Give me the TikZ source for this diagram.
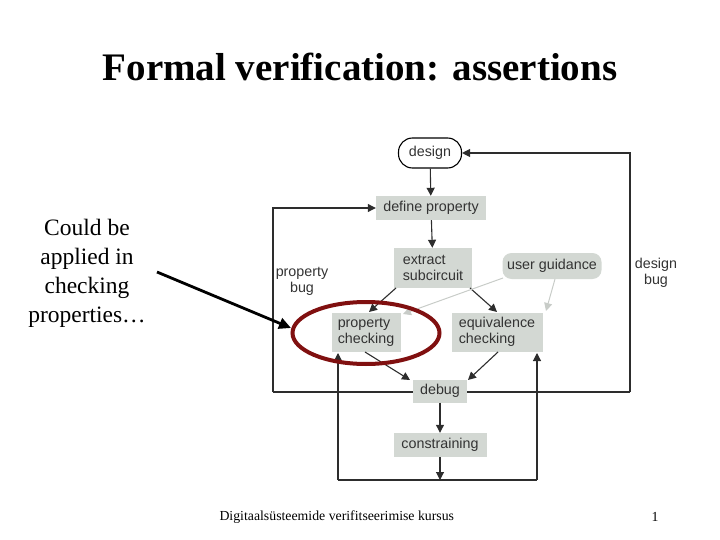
\documentclass[tikz,border=0pt]{standalone}
\usepackage{fontspec}
\setmainfont{Liberation Serif}
\setsansfont{Liberation Sans}
\usetikzlibrary{arrows.meta,shapes.geometric}
\definecolor{boxgray}{RGB}{211,216,211}
\definecolor{linegray}{RGB}{45,45,45}
\definecolor{lightln}{RGB}{200,204,200}
\definecolor{ellred}{RGB}{128,16,16}
\tikzset{
  gbox/.style={fill=boxgray, font=\sffamily\fontsize{14.3}{16}\selectfont, text=black!80, inner sep=0pt, align=left},
  flow/.style={draw=linegray, line width=1.1pt, -{Triangle[length=8pt,width=8pt]}},
  plain/.style={draw=linegray, line width=1.1pt},
  light/.style={draw=lightln, line width=1pt, -{Triangle[length=8pt,width=8pt]}},
  lbl/.style={font=\sffamily\fontsize{14.3}{16}\selectfont, text=black!80, align=center},
}
\begin{document}
\begin{tikzpicture}[x=1pt,y=-1pt]
\useasboundingbox (0,0) rectangle (720,540);
% title
\node (title) at (360,67) {\fontsize{39}{44}\selectfont\bfseries Formal verification: assertions};
% loops (behind)
\coordinate (tl) at (273,208);
\coordinate (bl) at (273,392);
\coordinate (br) at (630,392);
\coordinate (tr) at (630,153);
% nodes
\node[draw=black, line width=1.1pt, rounded corners=14pt, minimum width=63pt, minimum height=30pt, fill=white, font=\sffamily\fontsize{14.3}{16}\selectfont, text=black!80] (design) at (430,153) {design};
\node[gbox, minimum width=110pt, minimum height=24pt, align=center] (define) at (431,208) {define property};
\node[gbox, minimum width=78pt, minimum height=40pt] (extract) at (433,268) {extract\\subcircuit};
\node[gbox, rounded corners=9pt, minimum width=99pt, minimum height=26pt, align=center] (user) at (552,266) {user guidance};
\node[gbox, minimum width=69pt, minimum height=39pt] (pc) at (366,332) {property\\checking};
\node[gbox, minimum width=91pt, minimum height=39pt] (ec) at (497,332) {equivalence\\checking};
\node[lbl] (pbug) at (302,281) {property\\bug};
\node[lbl] (dbug) at (656,273) {design\\bug};
% big feedback loop
\draw[plain] (br) -- (bl);
\node[gbox, minimum width=54pt, minimum height=23pt, align=center] (debug) at (440,391) {debug};
\node[gbox, minimum width=93pt, minimum height=24pt, align=center] (constr) at (440,445) {constraining};
\draw[flow] (bl) -- (tl) -- (define.west);
\draw[flow] (br) -- (tr) -- (design.east);
% flows
\draw[flow] (design) -- (define);
\draw[flow] (define) -- (extract);
\draw[flow] (396,288) -- (369,312);
\draw[flow] (470,288) -- (497,312);
\draw[flow] (365,352) -- (410,380);
\draw[flow] (498,352) -- (468,380);
\draw[flow] (debug) -- (constr);
\coordinate (bm) at (440,480);
\coordinate (blb) at (338,480);
\coordinate (brb) at (537,480);
\draw[flow] (constr) -- (bm);
\draw[plain] (blb) -- (brb);
\draw[flow] (blb) -- (338,353);
\draw[flow] (brb) -- (537,353);
% user guidance light arrows
\draw[light] (503,278) -- (403,314);
\draw[light] (555,279) -- (546,311);
% red ellipse
\node[ellipse, draw=ellred, line width=4pt, minimum width=147pt, minimum height=62pt] (ell) at (366,333) {};
% left text and arrow
\node[align=center, font=\fontsize{23.5}{29}\selectfont] (note) at (87,273) {Could be\\applied in\\checking\\properties\ldots};
\draw[line width=2.8pt, -{Triangle[length=12pt,width=11pt]}] (157,272) -- (291,328);
% footer
\node[font=\fontsize{13.8}{16}\selectfont, anchor=west] (foot) at (216,517) {Digitaalsüsteemide verifitseerimise kursus};
\node[font=\fontsize{13.8}{16}\selectfont] (num) at (655,517) {1};
\end{tikzpicture}
\end{document}
